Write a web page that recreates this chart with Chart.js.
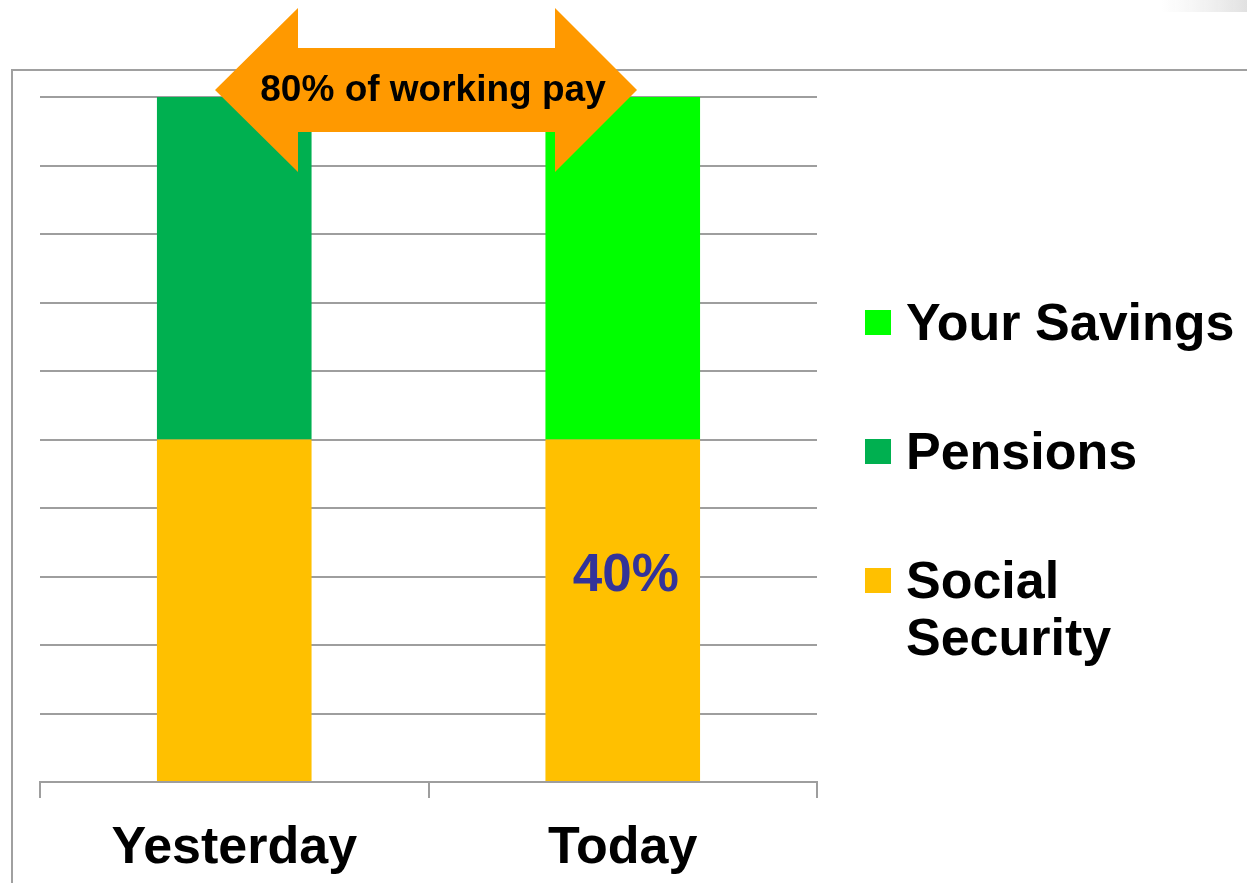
<!DOCTYPE html>
<html>
<head>
<meta charset="utf-8">
<script src="https://cdn.jsdelivr.net/npm/chart.js@4.4.1/dist/chart.umd.min.js"></script>
<style>
  html, body { margin: 0; padding: 0; background: #fff; }
  #wrap { width: 1247px; height: 883px; position: relative; }
</style>
</head>
<body>
<div id="wrap"><canvas id="pay"></canvas></div>
<script>
// categories and series (percent of working pay)
var categories = ["Yesterday", "Today"];
var socialSecurity = [40, 40];
var pensions = [40, 0];
var yourSavings = [0, 40];
var seriesNames = ["Social Security", "Pensions", "Your Savings"];
var seriesColors = ["#FFC000", "#00B050", "#00FF00"];
var arrowText = "80% of working pay";
var barLabel = "40%";

var FONT = '"Liberation Sans", Arial, sans-serif';
var GRID = "#9e9e9e";

// grey frame behind the chart + faint corner shading
var framePlugin = {
  id: "frame",
  beforeDraw: function (chart) {
    var c = chart.ctx;
    c.save();
    var g = c.createLinearGradient(1160, 0, 1247, 0);
    g.addColorStop(0, "rgba(235,235,235,0)");
    g.addColorStop(1, "rgba(225,225,225,1)");
    c.fillStyle = g;
    c.fillRect(1160, 0, 87, 12);
    c.strokeStyle = "#a0a0a0";
    c.lineWidth = 2;
    c.beginPath();
    c.moveTo(12, 883);
    c.lineTo(12, 70);
    c.lineTo(1247, 70);
    c.stroke();
    c.restore();
  }
};

// orange double arrow and the 40% label on today's social security bar
var notesPlugin = {
  id: "notes",
  afterDatasetsDraw: function (chart) {
    var c = chart.ctx;
    c.save();
    // label inside the bar
    var bar = chart.getDatasetMeta(0).data[1];
    c.fillStyle = "#333399";
    c.font = "bold 53px " + FONT;
    c.textAlign = "center";
    c.textBaseline = "middle";
    c.fillText(barLabel, bar.x + 3, bar.y + (bar.base - bar.y) * 0.4);

    // arrow
    var top = chart.scales.y.getPixelForValue(80) - 7;
    c.fillStyle = "#FF9900";
    c.beginPath();
    c.moveTo(215, top);
    c.lineTo(298, top - 82);
    c.lineTo(298, top - 42);
    c.lineTo(555, top - 42);
    c.lineTo(555, top - 82);
    c.lineTo(637, top);
    c.lineTo(555, top + 82);
    c.lineTo(555, top + 42);
    c.lineTo(298, top + 42);
    c.lineTo(298, top + 82);
    c.closePath();
    c.fill();
    c.fillStyle = "#000";
    c.font = "bold 37px " + FONT;
    c.fillText(arrowText, 433, top + 1);
    c.restore();
  }
};

// legend on the right, top item = top of stack
var legendPlugin = {
  id: "sideLegend",
  afterDraw: function (chart) {
    var c = chart.ctx;
    var sets = chart.data.datasets;
    c.save();
    c.font = "bold 52px " + FONT;
    c.textAlign = "left";
    c.textBaseline = "alphabetic";
    var base = 340;
    for (var i = sets.length - 1; i >= 0; i--) {
      c.fillStyle = sets[i].backgroundColor;
      c.fillRect(865, base - 30, 26, 25);
      c.fillStyle = "#000";
      var words = sets[i].label === "Social Security" ? ["Social", "Security"] : [sets[i].label];
      for (var k = 0; k < words.length; k++) {
        c.fillText(words[k], 906, base + k * 57);
      }
      base += 129;
    }
    c.restore();
  }
};

var ctx = document.getElementById("pay");
ctx.width = 1247;
ctx.height = 883;

var myChart = new Chart(ctx, {
  type: "bar",
  data: {
    labels: categories,
    datasets: [
      { label: seriesNames[0], data: socialSecurity, backgroundColor: seriesColors[0] },
      { label: seriesNames[1], data: pensions, backgroundColor: seriesColors[1] },
      { label: seriesNames[2], data: yourSavings, backgroundColor: seriesColors[2] }
    ]
  },
  options: {
    responsive: false,
    animation: false,
    layout: { padding: { left: 40, right: 430, top: 97, bottom: 0 } },
    datasets: { bar: { categoryPercentage: 1, barPercentage: 0.398, borderWidth: 0 } },
    plugins: { legend: { display: false }, tooltip: { enabled: false } },
    scales: {
      x: {
        stacked: true,
        grid: { drawOnChartArea: false, drawTicks: true, tickLength: 16, color: GRID, lineWidth: 2, offset: true },
        border: { display: true, color: GRID, width: 2 },
        ticks: { color: "#000", padding: 19, font: { family: FONT, size: 52, weight: "bold" } },
        afterFit: function (s) { s.height = 101; }
      },
      y: {
        stacked: true,
        min: 0,
        max: 80,
        ticks: { display: false, stepSize: 8 },
        grid: { color: GRID, lineWidth: 2, drawTicks: false },
        border: { display: false },
        afterFit: function (s) { s.width = 0; }
      }
    }
  },
  plugins: [framePlugin, notesPlugin, legendPlugin]
});
</script>
</body>
</html>
